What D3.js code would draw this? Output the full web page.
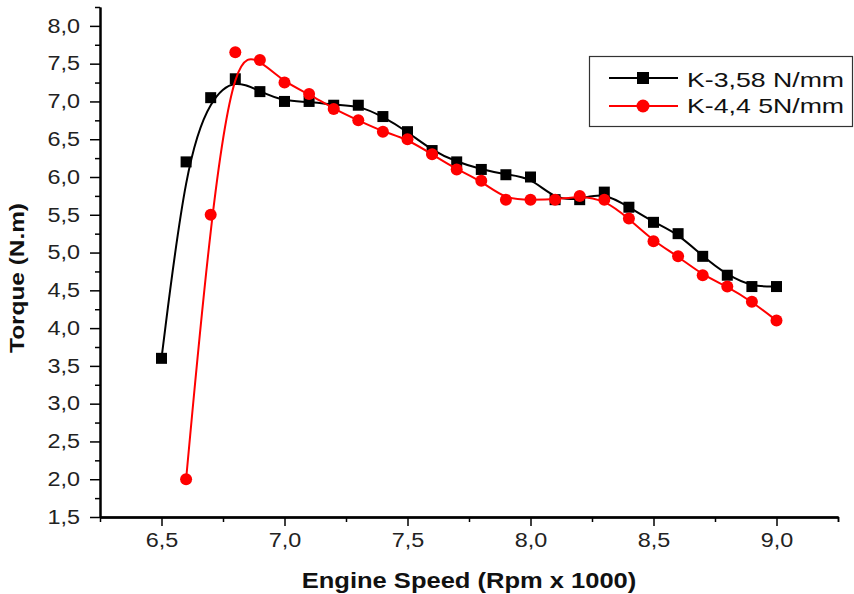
<!DOCTYPE html>
<html>
<head>
<meta charset="utf-8">
<script src="https://cdn.jsdelivr.net/npm/d3@7"></script>
<style>
  body { margin: 0; background: #fff; }
  svg text { font-family: "Liberation Sans", Arial, sans-serif; }
</style>
</head>
<body>
<div id="chart"></div>
<script>
// engine speed (rpm x 1000)
const speedK358 = [6.5, 6.6, 6.7, 6.8, 6.9, 7.0, 7.1, 7.2, 7.3, 7.4, 7.5, 7.6, 7.7,
    7.8, 7.9, 8.0, 8.1, 8.2, 8.3, 8.4, 8.5, 8.6, 8.7, 8.8, 8.9, 9.0]
const torqueK358 = [3.6, 6.2, 7.05, 7.3, 7.13, 7.0, 7.0, 6.95, 6.95, 6.8, 6.6, 6.35, 6.2,
    6.1, 6.03, 6.0, 5.7, 5.7, 5.8, 5.6, 5.4, 5.25, 4.95, 4.7, 4.55, 4.55]

const speedK445 = [6.6, 6.7, 6.8, 6.9, 7.0, 7.1, 7.2, 7.3, 7.4, 7.5, 7.6, 7.7,
    7.8, 7.9, 8.0, 8.1, 8.2, 8.3, 8.4, 8.5, 8.6, 8.7, 8.8, 8.9, 9.0]
const torqueK445 = [2.0, 5.5, 7.65, 7.55, 7.25, 7.1, 6.9, 6.75, 6.6, 6.5, 6.3, 6.1,
    5.95, 5.7, 5.7, 5.7, 5.75, 5.7, 5.45, 5.15, 4.95, 4.7, 4.55, 4.35, 4.1]

const seriesNames = ["K-3,58 N/mm", "K-4,4 5N/mm"]
const xTicks = [6.5, 7.0, 7.5, 8.0, 8.5, 9.0]
const yTicks = [1.5, 2.0, 2.5, 3.0, 3.5, 4.0, 4.5, 5.0, 5.5, 6.0, 6.5, 7.0, 7.5, 8.0]

const width = 854, height = 594
const margin = { top: 7, right: 16, bottom: 77, left: 100 }
// the source text is wider than plain Arial
const stretch = 1.2

const svg = d3.select("#chart").append("svg")
    .attr("width", width)
    .attr("height", height)

const x = d3.scaleLinear()
    .domain([6.25, 9.25])
    .range([margin.left, width - margin.right])
const y = d3.scaleLinear()
    .domain([1.5, 8.25])
    .range([height - margin.bottom, margin.top])

const fmt = d => d3.format(".1f")(d).replace(".", ",")

// minor ticks halfway between majors
const xMinor = d3.range(6.25, 9.26, 0.25).filter(v => !xTicks.some(t => Math.abs(t - v) < 1e-6))
const yMinor = d3.range(1.75, 8.26, 0.5)

const axisStyle = g => {
    g.select(".domain").attr("stroke", "#000").attr("stroke-width", 2)
    g.selectAll(".tick line").attr("stroke", "#000").attr("stroke-width", 1.5)
    g.selectAll(".tick text").attr("fill", "#222").style("font-size", "19.5px")
}

svg.append("g")
    .attr("transform", `translate(0,${y.range()[0]})`)
    .call(d3.axisBottom(x).tickValues(xMinor).tickSize(5).tickFormat("").tickSizeOuter(0))
    .call(axisStyle)
svg.append("g")
    .attr("transform", `translate(0,${y.range()[0]})`)
    .call(d3.axisBottom(x).tickValues(xTicks).tickSize(9).tickPadding(7).tickFormat(fmt).tickSizeOuter(0))
    .call(axisStyle)
    .selectAll(".tick text")
    .attr("transform", `scale(${stretch},1)`)
svg.append("g")
    .attr("transform", `translate(0,${y.range()[0]})`)
    .call(d3.axisBottom(x).tickValues([9.25]).tickSize(5).tickFormat("").tickSizeOuter(0))
    .call(axisStyle)
svg.append("g")
    .attr("transform", `translate(${x.range()[0]},0)`)
    .call(d3.axisLeft(y).tickValues(yMinor).tickSize(5).tickFormat("").tickSizeOuter(0))
    .call(axisStyle)
svg.append("g")
    .attr("transform", `translate(${x.range()[0]},0)`)
    .call(d3.axisLeft(y).tickValues(yTicks).tickSize(10).tickPadding(10).tickFormat(fmt).tickSizeOuter(0))
    .call(axisStyle)
    .selectAll(".tick text")
    .attr("x", -20 / stretch)
    .attr("transform", `scale(${stretch},1)`)

// axis titles
svg.append("text")
    .attr("transform", `translate(${(x.range()[0] + x.range()[1]) / 2},588) scale(1.16,1)`)
    .attr("text-anchor", "middle")
    .style("font-size", "22px")
    .style("font-weight", "bold")
    .attr("fill", "#111")
    .text("Engine Speed (Rpm x 1000)")
svg.append("text")
    .attr("transform", `translate(24,278) rotate(-90) scale(1.22,1)`)
    .attr("text-anchor", "middle")
    .style("font-size", "20px")
    .style("font-weight", "bold")
    .attr("fill", "#111")
    .text("Torque (N.m)")

const line = d3.line()
    .x(d => x(d[0]))
    .y(d => y(d[1]))
    .curve(d3.curveBasis)

const blackData = d3.zip(speedK358, torqueK358)
const redData = d3.zip(speedK445, torqueK445)

svg.append("path")
    .datum(blackData)
    .attr("d", line)
    .attr("fill", "none")
    .attr("stroke", "#000")
    .attr("stroke-width", 2)
svg.selectAll(".sq")
    .data(blackData)
    .enter().append("rect")
    .attr("class", "sq")
    .attr("x", d => x(d[0]) - 5.5)
    .attr("y", d => y(d[1]) - 5.5)
    .attr("width", 11)
    .attr("height", 11)
    .attr("fill", "#000")

svg.append("path")
    .datum(redData)
    .attr("d", line)
    .attr("fill", "none")
    .attr("stroke", "#ff0000")
    .attr("stroke-width", 2)
svg.selectAll(".dot")
    .data(redData)
    .enter().append("circle")
    .attr("class", "dot")
    .attr("cx", d => x(d[0]))
    .attr("cy", d => y(d[1]))
    .attr("r", 6)
    .attr("fill", "#ff0000")

// legend
const legend = svg.append("g")
legend.append("rect")
    .attr("x", 589.5).attr("y", 56.5)
    .attr("width", 263).attr("height", 70)
    .attr("fill", "#fff")
    .attr("stroke", "#333")
    .attr("stroke-width", 1.2)
const legendRows = [
    { name: seriesNames[0], color: "#000", shape: "square", yy: 78, base: 87 },
    { name: seriesNames[1], color: "#ff0000", shape: "circle", yy: 106, base: 113 }
]
legendRows.forEach(r => {
    legend.append("line")
        .attr("x1", 609).attr("x2", 678)
        .attr("y1", r.yy).attr("y2", r.yy)
        .attr("stroke", r.color).attr("stroke-width", 2)
    if (r.shape == "square") {
        legend.append("rect")
            .attr("x", 637).attr("y", r.yy - 6)
            .attr("width", 12).attr("height", 12)
            .attr("fill", r.color)
    } else {
        legend.append("circle")
            .attr("cx", 643).attr("cy", r.yy)
            .attr("r", 6.5)
            .attr("fill", r.color)
    }
    legend.append("text")
        .attr("transform", `translate(687,${r.base}) scale(1.27,1)`)
        .style("font-size", "21px")
        .attr("fill", "#111")
        .text(r.name)
})
</script>
</body>
</html>
